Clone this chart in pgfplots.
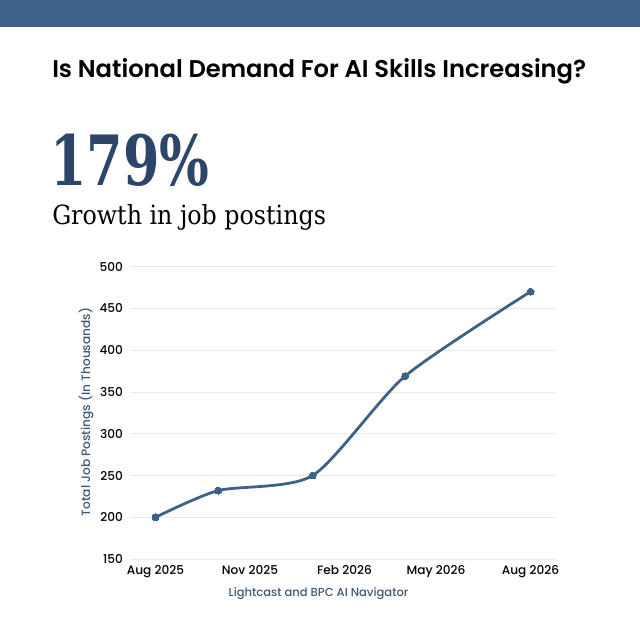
\documentclass[border=0pt]{standalone}
\usepackage{fontspec}
\usepackage{pgfplots}
\pgfplotsset{compat=1.18}
\setmainfont{Poppins}
\newfontfamily\popm{Poppins Medium}
\newfontfamily\pops{Poppins SemiBold}
\newfontfamily\slab{DejaVu Serif Condensed}
\definecolor{barblue}{HTML}{3E6189}
\definecolor{bignum}{HTML}{2C4568}
\definecolor{linec}{HTML}{3E6189}
\definecolor{gridc}{HTML}{E9E9ED}
\definecolor{srcc}{HTML}{3F5878}
\begin{document}
\begin{tikzpicture}[x=0.75pt,y=0.75pt]
\fill[white] (0,0) rectangle (640,640);
\path[use as bounding box] (0,0) rectangle (640,640);
\fill[barblue] (0,613) rectangle (640,640);
\node[anchor=base west,inner sep=0pt,font=\pops\fontsize{18.15}{22}\selectfont,text=black] at (52,562) {Is National Demand For AI Skills Increasing?};
\node[anchor=base west,inner sep=0pt,font=\slab\bfseries\fontsize{52}{56}\selectfont,text=bignum] at (50,454) {\scalebox{0.84}[1]{179\%}};
\node[anchor=base west,inner sep=0pt,font=\slab\fontsize{19.8}{24}\selectfont,text=black] at (52,415) {Growth in job postings};
\begin{axis}[
  at={(127,96.8)},anchor=south west,
  scale only axis,width=318.75pt,height=219.4pt,
  xmin=-24.3,xmax=389.3,ymin=150,ymax=500,
  axis x line=bottom,axis y line=left,
  axis line style={draw=none},
  ymajorgrids,
  grid style={gridc,line width=0.6pt},
  ytick={150,200,250,300,350,400,450,500},
  xtick={0,92,184,273,365},
  xticklabels={Aug 2025,Nov 2025,Feb 2026,May 2026,Aug 2026},
  tick style={draw=none},
  tick label style={font=\popm\fontsize{9.1}{11}\selectfont,text=black},
  /pgf/number format/assume math mode=true,
  xticklabel style={yshift=1pt},
  clip=false,
]
\addplot[linec,line width=2.1pt,smooth,tension=0.42,mark=*,mark size=2.6pt,mark options={fill=linec,draw=linec,line width=0pt}]
 coordinates {(0,200) (61,232) (153,250) (243,369) (365,470)};
\end{axis}
\node[rotate=90,inner sep=0pt,font=\popm\fontsize{9.1}{10}\selectfont,text=srcc] at (86,228) {Total Job Postings (In Thousands)};
\node[inner sep=0pt,font=\popm\fontsize{8.65}{10}\selectfont,text=srcc] at (318.5,46) {Lightcast and BPC AI Navigator};
\end{tikzpicture}
\end{document}
